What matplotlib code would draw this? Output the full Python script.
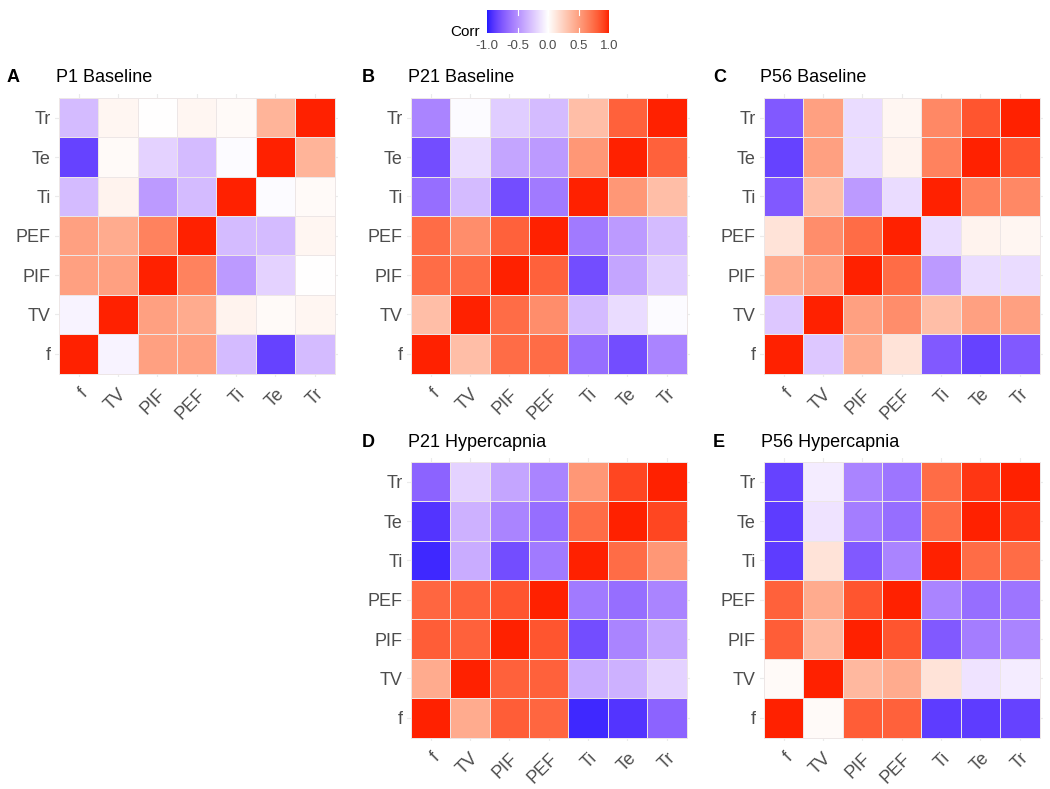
import numpy as np
import matplotlib
matplotlib.use('Agg')
import matplotlib.pyplot as plt
from matplotlib.colors import ListedColormap

plt.rcParams['font.family'] = ['Liberation Sans', 'DejaVu Sans']

# variables, bottom-to-top / left-to-right
labels = ['f', 'TV', 'PIF', 'PEF', 'Ti', 'Te', 'Tr']

# correlation matrices (rows/cols in the order of labels)
p1_baseline = [
    [1.00, -0.05, 0.50, 0.50, -0.30, -0.85, -0.30],
    [-0.05, 1.00, 0.50, 0.45, 0.07, 0.03, 0.05],
    [0.50, 0.50, 1.00, 0.65, -0.45, -0.20, 0.00],
    [0.50, 0.45, 0.65, 1.00, -0.30, -0.30, 0.05],
    [-0.30, 0.07, -0.45, -0.30, 1.00, -0.02, 0.03],
    [-0.85, 0.03, -0.20, -0.30, -0.02, 1.00, 0.40],
    [-0.30, 0.05, 0.00, 0.05, 0.03, 0.40, 1.00],
]
p21_baseline = [
    [1.00, 0.35, 0.75, 0.75, -0.65, -0.80, -0.55],
    [0.35, 1.00, 0.75, 0.60, -0.30, -0.15, -0.02],
    [0.75, 0.75, 1.00, 0.80, -0.80, -0.40, -0.22],
    [0.75, 0.60, 0.80, 1.00, -0.60, -0.45, -0.30],
    [-0.65, -0.30, -0.80, -0.60, 1.00, 0.55, 0.35],
    [-0.80, -0.15, -0.40, -0.45, 0.55, 1.00, 0.80],
    [-0.55, -0.02, -0.22, -0.30, 0.35, 0.80, 1.00],
]
p56_baseline = [
    [1.00, -0.25, 0.45, 0.15, -0.75, -0.85, -0.75],
    [-0.25, 1.00, 0.50, 0.60, 0.35, 0.50, 0.50],
    [0.45, 0.50, 1.00, 0.75, -0.45, -0.15, -0.15],
    [0.15, 0.60, 0.75, 1.00, -0.15, 0.07, 0.05],
    [-0.75, 0.35, -0.45, -0.15, 1.00, 0.65, 0.62],
    [-0.85, 0.50, -0.15, 0.07, 0.65, 1.00, 0.85],
    [-0.75, 0.50, -0.15, 0.05, 0.62, 0.85, 1.00],
]
p21_hyper = [
    [1.00, 0.45, 0.82, 0.78, -0.95, -0.90, -0.70],
    [0.45, 1.00, 0.80, 0.80, -0.37, -0.35, -0.20],
    [0.82, 0.80, 1.00, 0.85, -0.80, -0.55, -0.40],
    [0.78, 0.80, 0.85, 1.00, -0.60, -0.65, -0.55],
    [-0.95, -0.37, -0.80, -0.60, 1.00, 0.75, 0.55],
    [-0.90, -0.35, -0.55, -0.65, 0.75, 1.00, 0.90],
    [-0.70, -0.20, -0.40, -0.55, 0.55, 0.90, 1.00],
]
p56_hyper = [
    [1.00, 0.03, 0.82, 0.80, -0.87, -0.87, -0.85],
    [0.03, 1.00, 0.38, 0.45, 0.15, -0.12, -0.08],
    [0.82, 0.38, 1.00, 0.85, -0.75, -0.58, -0.55],
    [0.80, 0.45, 0.85, 1.00, -0.55, -0.65, -0.62],
    [-0.87, 0.15, -0.75, -0.55, 1.00, 0.75, 0.75],
    [-0.87, -0.12, -0.58, -0.65, 0.75, 1.00, 0.95],
    [-0.85, -0.08, -0.55, -0.62, 0.75, 0.95, 1.00],
]

panel_letters = ['A', 'B', 'C', 'D', 'E']
panel_titles = ['P1 Baseline', 'P21 Baseline', 'P56 Baseline',
                'P21 Hypercapnia', 'P56 Hypercapnia']
panel_data = [p1_baseline, p21_baseline, p56_baseline, p21_hyper, p56_hyper]

# blue - white - red gradient interpolated in Lab (like ggplot gradient2)
M = np.array([[0.4124, 0.3576, 0.1805],
              [0.2126, 0.7152, 0.0722],
              [0.0193, 0.1192, 0.9505]])
WP = np.array([0.95047, 1.0, 1.08883])


def to_lab(rgb):
    c = np.asarray(rgb, float)
    c = np.where(c > 0.04045, ((c + 0.055) / 1.055) ** 2.4, c / 12.92)
    xyz = M @ c / WP
    f = np.where(xyz > 0.008856, np.cbrt(xyz), 7.787 * xyz + 16 / 116)
    return np.array([116 * f[1] - 16, 500 * (f[0] - f[1]), 200 * (f[1] - f[2])])


def from_lab(lab):
    L, a, b = lab
    fy = (L + 16) / 116
    f = np.array([fy + a / 500, fy, fy - b / 200])
    xyz = np.where(f ** 3 > 0.008856, f ** 3, (f - 16 / 116) / 7.787) * WP
    c = np.clip(np.linalg.inv(M) @ xyz, 0, 1)
    c = np.where(c > 0.0031308, 1.055 * c ** (1 / 2.4) - 0.055, 12.92 * c)
    return np.clip(c, 0, 1)


lab_blue = to_lab([0.12, 0.1, 1.0])
lab_white = to_lab([1, 1, 1])
lab_red = to_lab([1.0, 0.13, 0.0])
cols = []
for v in np.linspace(-1, 1, 256):
    if v < 0:
        cols.append(from_lab(lab_white + (lab_blue - lab_white) * (-v)))
    else:
        cols.append(from_lab(lab_white + (lab_red - lab_white) * v))
cmap = ListedColormap(cols)

W, H = 1050, 789
fig = plt.figure(figsize=(W / 100, H / 100), dpi=100)


def ax_px(x0, y0, x1, y1):
    return fig.add_axes([x0 / W, 1 - y1 / H, (x1 - x0) / W, (y1 - y0) / H])


# tile area pixel boxes (left, top) and size
tile_boxes = [(59, 98), (411, 98), (764, 98), (411, 462), (764, 462)]
size = 275.5
unit = size / 7
pad = 0.1
title_pos = [(7, 56, 78), (362, 408, 78), (713, 760, 78),
             (362, 408, 442), (713, 761, 442)]

edges = np.arange(8) - 0.5
for (x0, y0), data, (lx, tx, ty), letter, title in zip(
        tile_boxes, panel_data, title_pos, panel_letters, panel_titles):
    ax = ax_px(x0 - pad * unit, y0 - pad * unit,
               x0 + size + pad * unit, y0 + size + pad * unit)
    ax.set_xlim(-0.5 - pad, 6.5 + pad)
    ax.set_ylim(-0.5 - pad, 6.5 + pad)
    for i in range(7):
        ax.axvline(i, color='#EBEBEB', lw=0.8, zorder=0)
        ax.axhline(i, color='#EBEBEB', lw=0.8, zorder=0)
    ax.pcolormesh(edges, edges, np.array(data), cmap=cmap, vmin=-1, vmax=1,
                  edgecolors='#EDE6E6', linewidth=0.4, zorder=1)
    for s in ax.spines.values():
        s.set_visible(False)
    ax.set_xticks(range(7))
    ax.set_yticks(range(7))
    ax.set_xticklabels(labels, rotation=45, ha='right', va='top',
                       rotation_mode='anchor')
    ax.set_yticklabels(labels)
    ax.tick_params(length=0, labelsize=13, labelcolor='#4D4D4D')
    ax.tick_params(axis='x', pad=6)
    ax.tick_params(axis='y', pad=3)
    fig.text(lx / W, 1 - ty / H, letter, fontsize=13, fontweight='bold',
             ha='left', va='center')
    fig.text(tx / W, 1 - ty / H, title, fontsize=13, ha='left', va='center')

# colour bar legend
cax = ax_px(487, 10, 609, 33)
grad = np.linspace(-1, 1, 256)[None, :]
cax.imshow(grad, cmap=cmap, aspect='auto', extent=[-1, 1, 0, 1],
           vmin=-1, vmax=1)
for t in [-0.5, 0, 0.5]:
    cax.plot([t, t], [0, 0.2], color='white', lw=0.8)
    cax.plot([t, t], [0.8, 1], color='white', lw=0.8)
cax.set_xlim(-1, 1)
cax.set_ylim(0, 1)
cax.set_xticks([-1, -0.5, 0, 0.5, 1])
cax.set_xticklabels(['-1.0', '-0.5', '0.0', '0.5', '1.0'])
cax.set_yticks([])
cax.tick_params(length=0, labelsize=9.5, labelcolor='#4D4D4D', pad=5)
for s in cax.spines.values():
    s.set_visible(False)
fig.text(480 / W, 1 - 32 / H, 'Corr', fontsize=11, ha='right', va='center')

fig.savefig('out.png', dpi=100)
